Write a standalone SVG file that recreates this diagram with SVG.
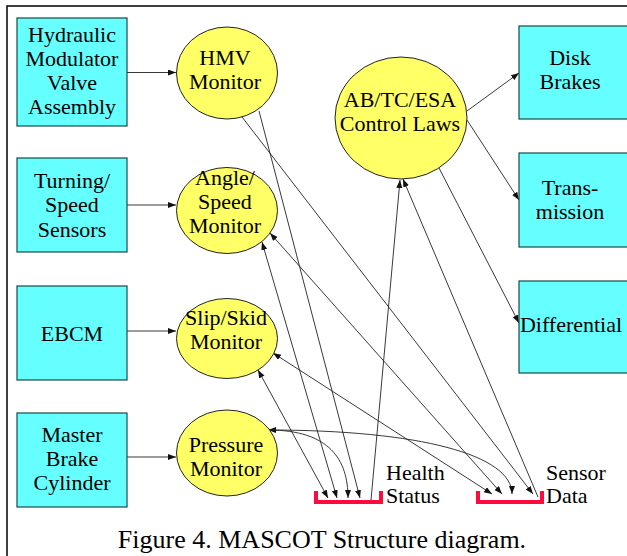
<svg xmlns="http://www.w3.org/2000/svg" width="627" height="556" viewBox="0 0 627 556">
<defs>
<marker id="ah" markerUnits="userSpaceOnUse" markerWidth="9" markerHeight="7" refX="8" refY="3" orient="auto-start-reverse">
<path d="M0,0 L8,3 L0,6 z" fill="#111"/>
</marker>
<style>
.box{fill:#66ffff;stroke:#1a4a4a;stroke-width:1.2}
.mon{fill:#ffff66;stroke:#222;stroke-width:1}
.ntext{font-family:"Liberation Serif","Times New Roman",serif;font-size:22px;fill:#000;text-anchor:middle}
.slabel{font-family:"Liberation Serif","Times New Roman",serif;font-size:22px;fill:#000}
.c{fill:none;stroke:#222;stroke-width:0.9}
.one{marker-end:url(#ah)}
.two{marker-start:url(#ah);marker-end:url(#ah)}
.store{fill:none;stroke:#ff0a3c;stroke-width:4}
</style>
</defs>
<rect x="7" y="6" width="660" height="600" fill="#fff" stroke="#000" stroke-width="1.5"/>

<g id="connectors">
<path class="c one" d="M127,72.5 L176,72.5"/>
<path class="c one" d="M127,205 L176,205"/>
<path class="c one" d="M127,331 L176,331"/>
<path class="c one" d="M127,457 L176,457"/>
<path class="c one" d="M259,111 L360,498"/>
<path class="c one" d="M242,117 L533,494"/>
<path class="c two" d="M262,242 L337,498"/>
<path class="c two" d="M270,233 L502,494"/>
<path class="c two" d="M258,370 L328,498"/>
<path class="c two" d="M273,353 L492,494"/>
<path class="c two" d="M268,430 C330,430 348,460 348,498"/>
<path class="c one" d="M268,430 C420,430 512,455 512,494"/>
<path class="c one" d="M371,500 L400,180"/>
<path class="c one" d="M538,497 L403,179"/>
<path class="c one" d="M467,111 L519,73"/>
<path class="c one" d="M467,120 L519,200"/>
<path class="c one" d="M439,168 L519,323"/>
</g>

<g id="hydraulic">
<rect class="box" x="17" y="18" width="110" height="108"/>
<text class="ntext" x="72" y="42">Hydraulic</text>
<text class="ntext" x="72" y="66">Modulator</text>
<text class="ntext" x="72" y="90">Valve</text>
<text class="ntext" x="72" y="114">Assembly</text>
</g>
<g id="turning">
<rect class="box" x="17" y="158" width="110" height="94"/>
<text class="ntext" x="72" y="188">Turning/</text>
<text class="ntext" x="72" y="212">Speed</text>
<text class="ntext" x="72" y="237">Sensors</text>
</g>
<g id="ebcm">
<rect class="box" x="17" y="286" width="110" height="94"/>
<text class="ntext" x="72" y="341">EBCM</text>
</g>
<g id="master">
<rect class="box" x="17" y="413" width="110" height="94"/>
<text class="ntext" x="72" y="442">Master</text>
<text class="ntext" x="72" y="466">Brake</text>
<text class="ntext" x="72" y="490">Cylinder</text>
</g>

<g id="hmv">
<ellipse class="mon" cx="227" cy="73" rx="50.5" ry="46"/>
<text class="ntext" x="225" y="65">HMV</text>
<text class="ntext" x="225" y="89">Monitor</text>
</g>
<g id="angle">
<ellipse class="mon" cx="227" cy="210.5" rx="50.5" ry="43"/>
<text class="ntext" x="225" y="185">Angle/</text>
<text class="ntext" x="225" y="209">Speed</text>
<text class="ntext" x="225" y="233">Monitor</text>
</g>
<g id="slip">
<ellipse class="mon" cx="227" cy="338.5" rx="50.5" ry="40"/>
<text class="ntext" x="226" y="325">Slip/Skid</text>
<text class="ntext" x="226" y="349">Monitor</text>
</g>
<g id="pressure">
<ellipse class="mon" cx="227" cy="453" rx="50.5" ry="43"/>
<text class="ntext" x="226" y="452">Pressure</text>
<text class="ntext" x="226" y="476">Monitor</text>
</g>
<g id="control">
<ellipse class="mon" cx="401" cy="118" rx="66" ry="61"/>
<text class="ntext" x="400" y="107">AB/TC/ESA</text>
<text class="ntext" x="400" y="131">Control Laws</text>
</g>

<g id="disk">
<rect class="box" x="519" y="26" width="112" height="93"/>
<text class="ntext" x="570" y="65">Disk</text>
<text class="ntext" x="570" y="89">Brakes</text>
</g>
<g id="transmission">
<rect class="box" x="519" y="153" width="112" height="94"/>
<text class="ntext" x="570" y="195">Trans-</text>
<text class="ntext" x="570" y="219">mission</text>
</g>
<g id="differential">
<rect class="box" x="519" y="281" width="112" height="92"/>
<text class="ntext" x="571" y="332">Differential</text>
</g>

<g id="health">
<path class="store" d="M316,491 V502 H381 V491"/>
<text class="slabel" x="386" y="480">Health</text>
<text class="slabel" x="386" y="503">Status</text>
</g>
<g id="sensor">
<path class="store" d="M478,491 V502 H542 V491"/>
<text class="slabel" x="546" y="480">Sensor</text>
<text class="slabel" x="546" y="503">Data</text>
</g>

<text x="322" y="548" font-family="Liberation Serif, Times New Roman, serif" font-size="26" text-anchor="middle">Figure 4. MASCOT Structure diagram.</text>
</svg>
